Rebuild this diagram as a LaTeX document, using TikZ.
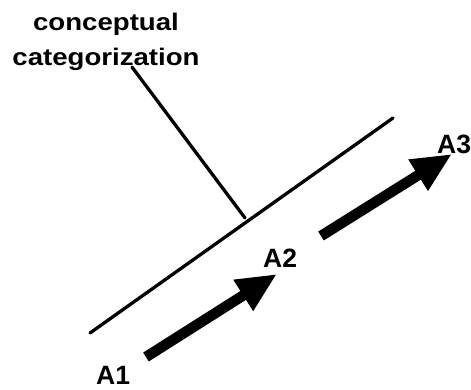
\documentclass[tikz,border=0pt]{standalone}
\usepackage{fontspec}
\setmainfont{Liberation Sans}
\newfontfamily\widefont[FakeStretch=1.15]{Liberation Sans}
\usetikzlibrary{arrows.meta}
\begin{document}
\begin{tikzpicture}[x=1pt,y=-1pt,
  lbl/.style={font=\bfseries\fontsize{26.5}{26.5}\selectfont, inner sep=0pt, anchor=base west},
  plainline/.style={line width=3.3pt, line cap=round},
  bigarrow/.style={line width=10.5pt, line cap=butt, -{Triangle[length=40pt,width=34pt]}}]
\useasboundingbox (0,0) rectangle (471,389);
\node[font=\widefont\bfseries\fontsize{24}{35}\selectfont, align=center, inner sep=0pt, anchor=north] (cat) at (106,13) {conceptual\\categorization};
\coordinate (p1) at (132,67);
\coordinate (p2) at (245,218);
\coordinate (l1) at (90,333);
\coordinate (l2) at (393,118);
\coordinate (t1) at (146,357);
\coordinate (h1) at (277,274);
\coordinate (t2) at (321,236);
\coordinate (h2) at (452,154);
\draw[plainline] (p1) -- (p2);
\draw[plainline] (l1) -- (l2);
\draw[bigarrow] (t1) -- (h1);
\draw[bigarrow] (t2) -- (h2);
\node[lbl] (A1) at (96,384) {A1};
\node[lbl] (A2) at (263,267) {A2};
\node[lbl] (A3) at (437,153) {A3};
\end{tikzpicture}
\end{document}
